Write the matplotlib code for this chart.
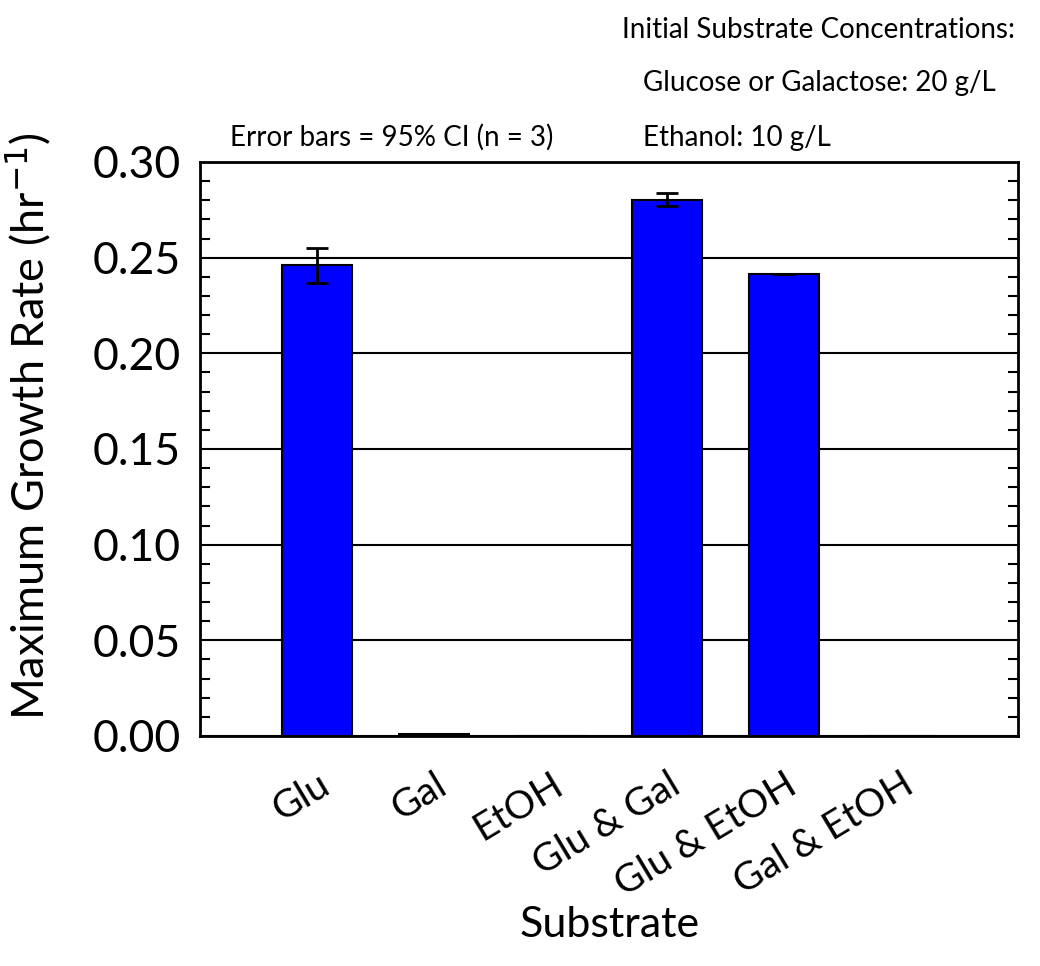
import matplotlib.pyplot as plt
import numpy as np
from matplotlib.ticker import MultipleLocator

plt.rcParams['font.family'] = ['Lato', 'DejaVu Sans']

substrates = ['Glu', 'Gal', 'EtOH', 'Glu & Gal', 'Glu & EtOH', 'Gal & EtOH']
growth_rate = [0.246, 0.0008, 0.0, 0.2803, 0.2415, 0.0]
ci95 = [0.009, 0.0, 0.0, 0.0034, 0.0, 0.0]

fig = plt.figure(figsize=(10.4, 9.66), dpi=100)
ax = fig.add_axes([0.1923, 0.2381, 0.7865, 0.5942])

x_pos = np.arange(1, len(substrates) + 1)
ax.bar(x_pos, growth_rate, width=0.6, color='#0000ff', edgecolor='black',
       linewidth=1.5, zorder=2)
ax.errorbar(x_pos, growth_rate, yerr=ci95, fmt='none', ecolor='black',
            elinewidth=2, capsize=8, capthick=2, zorder=3)

ax.set_xlim(0, 7)
ax.set_ylim(0, 0.30)
ax.yaxis.set_major_locator(MultipleLocator(0.05))
ax.yaxis.set_minor_locator(MultipleLocator(0.01))
ax.yaxis.set_major_formatter(lambda v, p: '%.2f' % v)
ax.grid(axis='y', which='major', color='black', linewidth=1.5, zorder=0)
ax.set_axisbelow(True)

ax.set_xticks(x_pos)
ax.set_xticklabels(substrates, rotation=31, ha='right', rotation_mode='anchor',
                   fontsize=28)
ax.tick_params(axis='x', length=0, pad=22)
ax.tick_params(axis='y', which='both', direction='in', left=True, right=True,
               width=1.5, labelsize=32, pad=14)
ax.tick_params(axis='y', which='major', length=0)
ax.tick_params(axis='y', which='minor', length=7)
for s in ax.spines.values():
    s.set_linewidth(2)

ax.set_ylabel('Maximum Growth Rate (hr$^{-1}$)', fontsize=32.5)
ax.yaxis.set_label_coords(-0.18, 0.54)
ax.set_xlabel('Substrate', fontsize=31, va='center')
ax.xaxis.set_label_coords(0.501, -0.329)

fig.text(230 / 1040, 1 - 137 / 966, 'Error bars = 95% CI (n = 3)',
         fontsize=20, va='center', ha='left')
fig.text(622 / 1040, 1 - 30 / 966, 'Initial Substrate Concentrations:',
         fontsize=20, va='center', ha='left')
fig.text(643 / 1040, 1 - 83 / 966, 'Glucose or Galactose: 20 g/L',
         fontsize=20, va='center', ha='left')
fig.text(643 / 1040, 1 - 138 / 966, 'Ethanol: 10 g/L',
         fontsize=20, va='center', ha='left')

fig.savefig('out.png', dpi=100)
